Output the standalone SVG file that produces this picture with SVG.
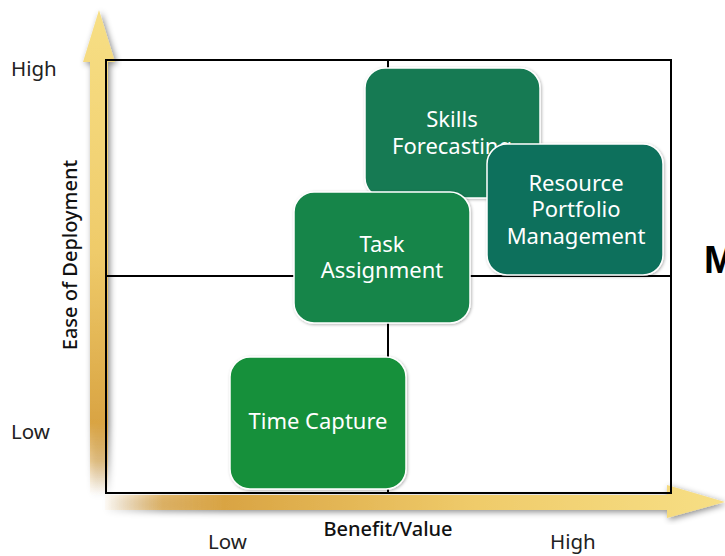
<svg xmlns="http://www.w3.org/2000/svg" width="725" height="556" viewBox="0 0 725 556">
<defs>
  <linearGradient id="gv" x1="0" y1="10" x2="0" y2="495" gradientUnits="userSpaceOnUse">
    <stop offset="0" stop-color="#F7DF85"/>
    <stop offset="0.5" stop-color="#EFCB6A"/>
    <stop offset="0.85" stop-color="#D9A443"/>
    <stop offset="0.93" stop-color="#DDAA50" stop-opacity="0.6"/>
    <stop offset="1" stop-color="#E8C080" stop-opacity="0"/>
  </linearGradient>
  <linearGradient id="gh" x1="100" y1="0" x2="725" y2="0" gradientUnits="userSpaceOnUse">
    <stop offset="0" stop-color="#E8C080" stop-opacity="0"/>
    <stop offset="0.1" stop-color="#DDAA50" stop-opacity="0.8"/>
    <stop offset="0.2" stop-color="#D9A443"/>
    <stop offset="0.6" stop-color="#EFCB6A"/>
    <stop offset="1" stop-color="#F7DF85"/>
  </linearGradient>
  <filter id="sh" x="-20%" y="-20%" width="140%" height="140%">
    <feDropShadow dx="2" dy="2" stdDeviation="3" flood-color="#000" flood-opacity="0.45"/>
  </filter>
  <filter id="bs" x="-10%" y="-10%" width="120%" height="120%">
    <feDropShadow dx="1" dy="1" stdDeviation="1.5" flood-color="#000" flood-opacity="0.3"/>
  </filter>
  <style>
    .lbl{font-family:"Noto Sans","Open Sans","Liberation Sans",sans-serif;font-size:20.5px;fill:#222}
    .ax{font-family:"Noto Sans","Open Sans","Liberation Sans",sans-serif;font-size:20px;fill:#111;font-weight:500}
    .nt{font-family:"Noto Sans","Open Sans","Liberation Sans",sans-serif;font-size:22px;fill:#fff;text-anchor:middle}
    .node{stroke:#fff;stroke-width:1.5;filter:url(#bs)}
    .grid{stroke:#000;stroke-width:2;fill:none}
  </style>
</defs>
<rect width="725" height="556" fill="#fff"/>

<g id="axes">
  <path d="M90,495 L90,62 L83,62 L99,10 L115,62 L108,62 L108,495 Z" fill="url(#gv)" filter="url(#sh)"/>
  <path d="M105,495 L667,495 L667,485 L725,502 L667,518 L667,510 L105,510 Z" fill="url(#gh)" filter="url(#sh)"/>
</g>

<g id="connectors">
  <rect class="grid" x="106" y="60" width="565" height="433"/>
  <line class="grid" x1="106" y1="276" x2="671" y2="276"/>
  <line class="grid" x1="388" y1="60" x2="388" y2="493"/>
</g>

<g id="labels">
  <text class="lbl" x="11" y="76">High</text>
  <text class="lbl" x="11" y="439">Low</text>
  <text class="lbl" x="208" y="549">Low</text>
  <text class="lbl" x="550" y="549">High</text>
  <text class="ax" x="388" y="536" text-anchor="middle">Benefit/Value</text>
  <text class="ax" transform="translate(77,255) rotate(-90)" text-anchor="middle">Ease of Deployment</text>
  <text x="704" y="273" font-family="'Liberation Sans',Arial,sans-serif" font-weight="bold" font-size="38" fill="#000">M</text>
</g>

<g id="skills">
  <rect class="node" x="365" y="68" width="175" height="130" rx="20" fill="#137A53"/>
  <text class="nt" x="452" y="127">Skills<tspan x="452" dy="27">Forecasting</tspan></text>
</g>
<g id="resource">
  <rect class="node" x="487" y="144" width="176" height="131" rx="20" fill="#0F6F5B"/>
  <text class="nt" x="576" y="191">Resource<tspan x="576" dy="26">Portfolio</tspan><tspan x="576" dy="27">Management</tspan></text>
</g>
<g id="task">
  <rect class="node" x="294" y="192" width="176" height="131" rx="20" fill="#16854A"/>
  <text class="nt" x="382" y="252">Task<tspan x="382" dy="26">Assignment</tspan></text>
</g>
<g id="time">
  <rect class="node" x="230" y="357" width="176" height="132" rx="20" fill="#17903A"/>
  <text class="nt" x="318" y="429">Time Capture</text>
</g>
</svg>
